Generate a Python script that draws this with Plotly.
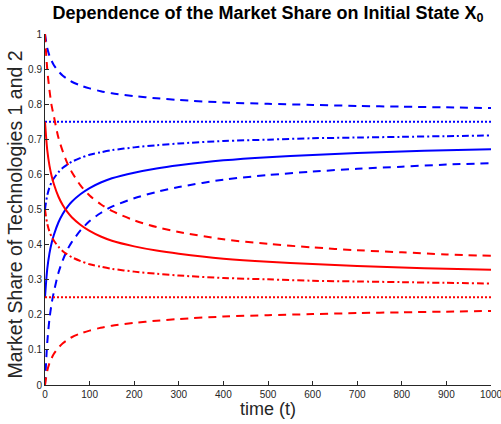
import plotly.graph_objects as go

# time samples (t)
time_t = [0, 2, 5, 10, 15, 20, 30, 40, 50, 60, 80, 100, 125, 150, 200, 250,
          300, 400, 500, 600, 700, 800, 900, 1000]

# Technology 1 (blue) market share for different initial states
blue_dash_top = [1.0, 0.983, 0.96, 0.938, 0.923, 0.911, 0.894, 0.881, 0.872, 0.864, 0.853, 0.845,
                 0.837, 0.831, 0.823, 0.817, 0.812, 0.805, 0.801, 0.798, 0.795, 0.793, 0.791, 0.789]
blue_dashdot = [0.5, 0.518, 0.54, 0.563, 0.578, 0.589, 0.606, 0.619, 0.628, 0.636, 0.647, 0.656,
                0.663, 0.669, 0.677, 0.683, 0.688, 0.695, 0.699, 0.703, 0.705, 0.707, 0.709, 0.711]
blue_solid = [0.25, 0.285, 0.33, 0.375, 0.405, 0.428, 0.463, 0.488, 0.507, 0.522, 0.544, 0.561,
              0.577, 0.589, 0.605, 0.617, 0.626, 0.64, 0.649, 0.655, 0.661, 0.665, 0.669, 0.672]
blue_dash_bottom = [0.0, 0.053, 0.12, 0.188, 0.233, 0.266, 0.319, 0.356, 0.385, 0.407, 0.441, 0.467,
                    0.49, 0.508, 0.532, 0.55, 0.564, 0.585, 0.598, 0.608, 0.616, 0.622, 0.628, 0.632]
blue_limit = [0.75, 0.75]

# Technology 2 (red) market share
red_dash_top = [1.0, 0.955, 0.9, 0.84, 0.795, 0.765, 0.705, 0.665, 0.632, 0.607, 0.568, 0.54,
                0.515, 0.496, 0.469, 0.45, 0.436, 0.415, 0.402, 0.392, 0.384, 0.378, 0.372, 0.368]
red_solid = [0.75, 0.715, 0.67, 0.625, 0.595, 0.572, 0.537, 0.512, 0.493, 0.478, 0.456, 0.439,
             0.423, 0.411, 0.395, 0.383, 0.374, 0.36, 0.351, 0.345, 0.339, 0.335, 0.331, 0.328]
red_dashdot = [0.5, 0.482, 0.46, 0.437, 0.422, 0.411, 0.394, 0.381, 0.372, 0.364, 0.353, 0.344,
               0.337, 0.331, 0.323, 0.317, 0.312, 0.305, 0.301, 0.297, 0.295, 0.293, 0.291, 0.289]
red_dash_bottom = [0.0, 0.017, 0.04, 0.062, 0.077, 0.089, 0.106, 0.119, 0.128, 0.136, 0.147, 0.155,
                   0.163, 0.169, 0.177, 0.183, 0.188, 0.195, 0.199, 0.202, 0.205, 0.207, 0.209, 0.211]
red_limit = [0.25, 0.25]
limit_t = [0, 1000]

x_ticks = [0, 100, 200, 300, 400, 500, 600, 700, 800, 900, 1000]
y_ticks = [0, 0.1, 0.2, 0.3, 0.4, 0.5, 0.6, 0.7, 0.8, 0.9, 1]
y_tick_labels = ["0", "0.1", "0.2", "0.3", "0.4", "0.5", "0.6", "0.7", "0.8", "0.9", "1"]

DASH = "8px,6px"
DASHDOT = "7px,3px,2px,3px"
DOT = "2px,2px"
LW = 2

fig = go.Figure()

def add(x, y, color, dash):
    fig.add_trace(go.Scatter(x=x, y=y, mode="lines",
                             line=dict(color=color, width=LW, dash=dash, shape="spline", smoothing=0.8),
                             showlegend=False, hoverinfo="skip"))

add(time_t, blue_dash_top, "#0000ff", DASH)
add(limit_t, blue_limit, "#0000ff", DOT)
add(time_t, blue_dashdot, "#0000ff", DASHDOT)
add(time_t, blue_solid, "#0000ff", "solid")
add(time_t, blue_dash_bottom, "#0000ff", DASH)
add(time_t, red_dash_top, "#ff0000", DASH)
add(time_t, red_solid, "#ff0000", "solid")
add(time_t, red_dashdot, "#ff0000", DASHDOT)
add(limit_t, red_limit, "#ff0000", DOT)
add(time_t, red_dash_bottom, "#ff0000", DASH)

axis_color = "#262626"
font_family = "Liberation Sans, Arial, Helvetica, sans-serif"

fig.update_layout(
    width=501, height=424,
    margin=dict(l=45, r=10, t=34, b=39, autoexpand=False),
    plot_bgcolor="white", paper_bgcolor="white",
    font=dict(family=font_family, color=axis_color),
    title=dict(text="<b>Dependence of the Market Share on Initial State X<sub>0</sub></b>",
               x=0.5, xref="paper", xanchor="center", y=0.986, yanchor="top",
               font=dict(size=18, color="black", family=font_family)),
    xaxis=dict(range=[0, 1000], tickvals=x_ticks, ticktext=[str(v) for v in x_ticks],
               showgrid=False, zeroline=False, showline=True, linecolor=axis_color, linewidth=1,
               ticks="inside", ticklen=4, tickcolor=axis_color, tickfont=dict(size=10, color=axis_color),
               automargin=False, ticklabeloverflow="allow"),
    yaxis=dict(range=[0, 1], tickvals=y_ticks, ticktext=y_tick_labels,
               showgrid=False, zeroline=False, showline=True, linecolor=axis_color, linewidth=1,
               ticks="inside", ticklen=4, tickcolor=axis_color, tickfont=dict(size=10, color=axis_color),
               automargin=False, ticklabeloverflow="allow"),
    annotations=[
        dict(text="time (t)", xref="paper", yref="paper", x=0.5, y=-0.035, xanchor="center",
             yanchor="top", showarrow=False, font=dict(size=18, color=axis_color)),
        dict(text="Market Share of Technologies 1 and 2", xref="paper", yref="paper",
             x=-0.038, y=0.486, xanchor="right", yanchor="middle", textangle=-90,
             showarrow=False, font=dict(size=19.5, color=axis_color)),
    ],
)

fig.write_html("out.html", config={"displayModeBar": False},
               post_script="document.body.style.margin='0';document.body.style.padding='0';")
